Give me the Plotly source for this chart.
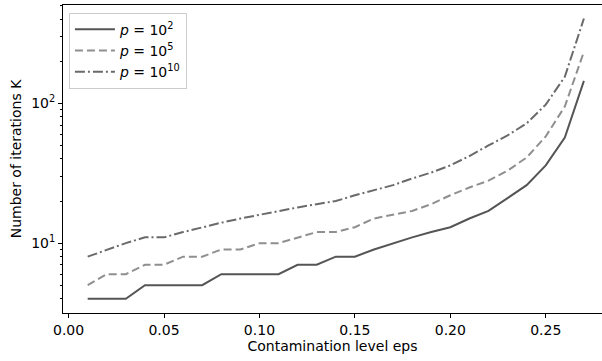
import plotly.graph_objects as go

eps = [0.01, 0.02, 0.03, 0.04, 0.05, 0.06, 0.07, 0.08, 0.09, 0.10,
       0.11, 0.12, 0.13, 0.14, 0.15, 0.16, 0.17, 0.18, 0.19, 0.20,
       0.21, 0.22, 0.23, 0.24, 0.25, 0.26, 0.27]
k_p2 = [4, 4, 4, 5, 5, 5, 5, 6, 6, 6,
        6, 7, 7, 8, 8, 9, 10, 11, 12, 13,
        15, 17, 21, 26, 36, 57, 145]
k_p5 = [5, 6, 6, 7, 7, 8, 8, 9, 9, 10,
        10, 11, 12, 12, 13, 15, 16, 17, 19, 22,
        25, 28, 33, 41, 58, 95, 234]
k_p10 = [8, 9, 10, 11, 11, 12, 13, 14, 15, 16,
         17, 18, 19, 20, 22, 24, 26, 29, 32, 36,
         42, 50, 59, 72, 98, 155, 405]

labels = ["<i>p</i> = 10<sup>2</sup>", "<i>p</i> = 10<sup>5</sup>", "<i>p</i> = 10<sup>10</sup>"]
x_ticks = [0.0, 0.05, 0.10, 0.15, 0.20, 0.25]
x_ticktext = ["0.00", "0.05", "0.10", "0.15", "0.20", "0.25"]
y_ticks = [10, 100]
y_ticktext = ["10<sup>1</sup>", "10<sup>2</sup>"]
y_minor = [4, 5, 6, 7, 8, 9, 20, 30, 40, 50, 60, 70, 80, 90, 200, 300, 400, 500]

fig = go.Figure()
fig.add_trace(go.Scatter(x=eps, y=k_p2, mode="lines", name=labels[0],
                         line=dict(color="#555555", width=2, dash="solid")))
fig.add_trace(go.Scatter(x=eps, y=k_p5, mode="lines", name=labels[1],
                         line=dict(color="#8f8f8f", width=2, dash="8px,4px")))
fig.add_trace(go.Scatter(x=eps, y=k_p10, mode="lines", name=labels[2],
                         line=dict(color="#6a6a6a", width=2, dash="10px,3px,2px,3px")))

fs = 14
font = dict(family="DejaVu Sans", size=fs, color="black")
fig.update_layout(
    width=602, height=361,
    margin=dict(l=63, r=0, t=5, b=48),
    plot_bgcolor="white", paper_bgcolor="white",
    font=font,
    showlegend=True,
    legend=dict(x=0.011, y=0.975, xanchor="left", yanchor="top",
                bgcolor="rgba(255,255,255,0.8)", bordercolor="#cccccc", borderwidth=1,
                font=dict(family="DejaVu Sans", size=fs, color="black"),
                tracegroupgap=0, itemwidth=40),
    xaxis=dict(range=[-0.00293, 0.27948], tickvals=x_ticks, ticktext=x_ticktext,
               ticks="outside", ticklen=4, tickwidth=1, tickcolor="black",
               showline=True, linecolor="black", linewidth=1, mirror=True,
               showgrid=False, zeroline=False,
               tickfont=font,
               title=dict(text="Contamination level eps", standoff=2, font=font)),
    yaxis=dict(type="log", range=[0.5, 2.704], tickvals=y_ticks, ticktext=y_ticktext,
               ticks="outside", ticklen=4, tickwidth=1, tickcolor="black",
               showline=True, linecolor="black", linewidth=1, mirror=False,
               showgrid=False, zeroline=False,
               tickfont=font,
               minor=dict(tickvals=y_minor, ticks="outside", ticklen=2, tickwidth=0.8,
                          tickcolor="black", showgrid=False),
               title=dict(text="Number of iterations K", standoff=6, font=font)),
)

fig.write_html("out.html")
